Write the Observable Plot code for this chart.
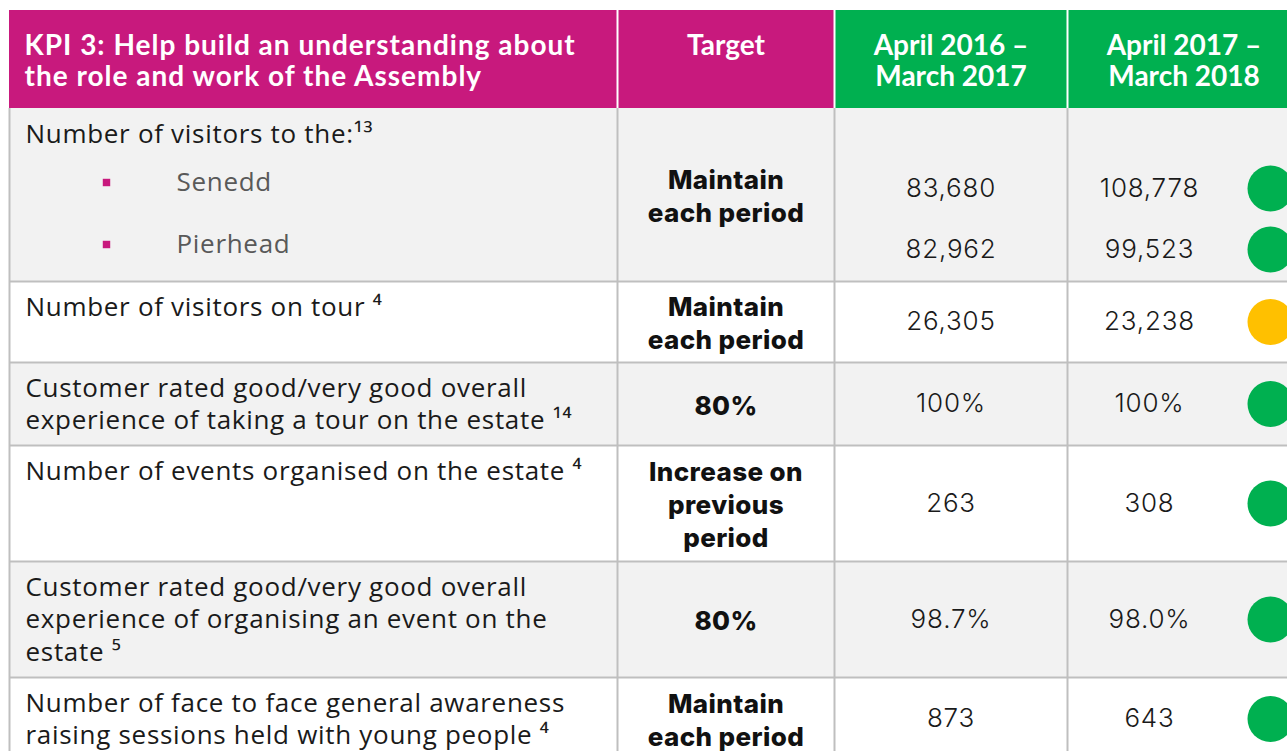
<!DOCTYPE html>
<html>
<head>
<meta charset="utf-8">
<script src="https://cdn.jsdelivr.net/npm/d3@7"></script>
<script src="https://cdn.jsdelivr.net/npm/@observablehq/plot@0.6"></script>
<style>
  html, body { margin: 0; padding: 0; background: #ffffff; }
  #chart svg { display: block; }
</style>
</head>
<body>
<div id="chart"></div>
<script>
// ---------- DATA ----------
const headers = [
  "KPI 3: Help build an understanding about\nthe role and work of the Assembly",
  "Target",
  "April 2016 –\nMarch 2017",
  "April 2017 –\nMarch 2018"
];
const indicators = [
  "Number of visitors to the:",
  "Number of visitors on tour",
  "Customer rated good/very good overall\nexperience of taking a tour on the estate",
  "Number of events organised on the estate",
  "Customer rated good/very good overall\nexperience of organising an event on the\nestate",
  "Number of face to face general awareness\nraising sessions held with young people"
];
const footnotes = ["13", "4", "14", "4", "5", "4"];
const targets = [
  "Maintain\neach period",
  "Maintain\neach period",
  "80%",
  "Increase on\nprevious\nperiod",
  "80%",
  "Maintain\neach period"
];
const subItems = ["Senedd", "Pierhead"];
// one entry per reported line (Senedd, Pierhead, then one per later row)
const valueRow = [0, 0, 1, 2, 3, 4, 5];
const values2016 = ["83,680", "82,962", "26,305", "100%", "263", "98.7%", "873"];
const values2017 = ["108,778", "99,523", "23,238", "100%", "308", "98.0%", "643"];
const status = ["on track", "on track", "close", "on track", "on track", "on track", "on track"];

// ---------- LAYOUT ----------
const W = 1287, H = 751;
const colEdges = [9, 617, 834, 1067, 1300];
const rowEdges = [10, 108, 281, 362, 445, 561, 677, 760];
const subY = [188, 249];          // sub-line centres inside first row
const subItemY = [182, 244];
const magenta = "#c8197d", green = "#00b050", amber = "#ffc000";
const grey = "#f2f2f2", border = "#bfbfbf";
const headerFill = [magenta, magenta, green, green];

const supMap = {"0":"⁰","1":"¹","2":"²","3":"³","4":"⁴","5":"⁵","6":"⁶","7":"⁷","8":"⁸","9":"⁹"};
const sup = s => [...s].map(c => supMap[c]).join("");

// ---------- TABLES BUILT FROM DATA ----------
const headerCells = headers.map((t, j) => ({
  text: t, x1: colEdges[j], x2: colEdges[j + 1], fill: headerFill[j],
  tx: j === 0 ? colEdges[0] + 15 : (colEdges[j] + colEdges[j + 1]) / 2
}));
const bodyRows = indicators.map((t, i) => ({
  label: t + (t.endsWith(":") ? "" : " ") + sup(footnotes[i]),
  target: targets[i],
  y1: rowEdges[i + 1], y2: rowEdges[i + 2],
  fill: i % 2 === 0 ? grey : "#ffffff"
}));
const valueCells = values2016.map((v, k) => {
  const r = valueRow[k];
  const sub = valueRow.slice(0, k).filter(q => q === r).length;
  const y = r === 0 ? subY[sub] : (rowEdges[r + 1] + rowEdges[r + 2]) / 2;
  return {a: v, b: values2017[k], status: status[k], y};
});
const subCells = subItems.map((s, k) => ({label: s, y: subItemY[k]}));

const headerText = {
  y: rowEdges[0] + 22, text: "text", lineAnchor: "top",
  fill: "#ffffff", fontSize: 28, fontWeight: 700, fontFamily: "Lato", lineHeight: 1.11
};

const plot = Plot.plot({
  width: W, height: H,
  margin: 0,
  x: {domain: [0, W], range: [0, W], axis: null},
  y: {domain: [0, H], range: [0, H], axis: null},
  color: {domain: ["on track", "close"], range: [green, amber]},
  style: {background: "#ffffff", overflow: "hidden"},
  marks: [
    Plot.rect(headerCells, {x1: "x1", x2: "x2", y1: rowEdges[0], y2: rowEdges[1], fill: d => d.fill}),
    Plot.rect(bodyRows, {x1: colEdges[0], x2: colEdges[4], y1: "y1", y2: "y2", fill: d => d.fill}),
    Plot.ruleY(bodyRows.slice(1), {y: "y1", x1: colEdges[0], x2: colEdges[4], stroke: border, strokeWidth: 2}),
    Plot.ruleX(colEdges.slice(0, 4), {x: d => d, y1: rowEdges[1], y2: H, stroke: border, strokeWidth: 2}),
    Plot.ruleX(colEdges.slice(1, 4), {x: d => d, y1: rowEdges[0], y2: rowEdges[1], stroke: "#ffffff", strokeWidth: 2}),
    // header text: first column left aligned, others centred
    Plot.text(headerCells.slice(0, 1), {...headerText, x: "tx", textAnchor: "start"}),
    Plot.text(headerCells.slice(1), {...headerText, x: "tx", textAnchor: "middle"}),
    // indicator labels
    Plot.text(bodyRows, {
      x: colEdges[0] + 16, y: d => d.y1 + 11, text: "label", textAnchor: "start", lineAnchor: "top",
      fill: "#1a1a1a", fontSize: 26, fontFamily: "Open Sans", fontWeight: 400, lineHeight: 1.25
    }),
    // bullets + sub items
    Plot.dot(subCells, {x: 106, y: "y", symbol: "square", r: 4.2, fill: magenta}),
    Plot.text(subCells, {
      x: 176, y: "y", text: "label", textAnchor: "start",
      fill: "#595959", fontSize: 26, fontFamily: "Open Sans"
    }),
    // targets
    Plot.text(bodyRows, {
      x: (colEdges[1] + colEdges[2]) / 2, y: d => (d.y1 + d.y2) / 2, text: "target",
      fill: "#111111", fontSize: 26, fontWeight: 800, fontFamily: "Inter", lineHeight: 1.27
    }),
    // values
    Plot.text(valueCells, {
      x: (colEdges[2] + colEdges[3]) / 2, y: "y", text: "a",
      fill: "#1a1a1a", fontSize: 26, fontWeight: 300, fontFamily: "Inter"
    }),
    Plot.text(valueCells, {
      x: colEdges[3] + 82, y: "y", text: "b",
      fill: "#1a1a1a", fontSize: 26, fontWeight: 300, fontFamily: "Inter"
    }),
    // status dots
    Plot.dot(valueCells, {x: colEdges[3] + 203, y: "y", r: 23, fill: "status"})
  ]
});

// letter spacing (styling only): header first column, labels, sub items, targets, values
const textGroups = plot.querySelectorAll("g[aria-label='text']");
const spacing = {0: "1", 2: "0.7", 3: "0.7", 4: "0.4", 5: "0.8", 6: "0.8"};
Object.entries(spacing).forEach(([i, s]) => textGroups[i] && textGroups[i].setAttribute("letter-spacing", s));

document.getElementById("chart").append(plot);
</script>
</body>
</html>
